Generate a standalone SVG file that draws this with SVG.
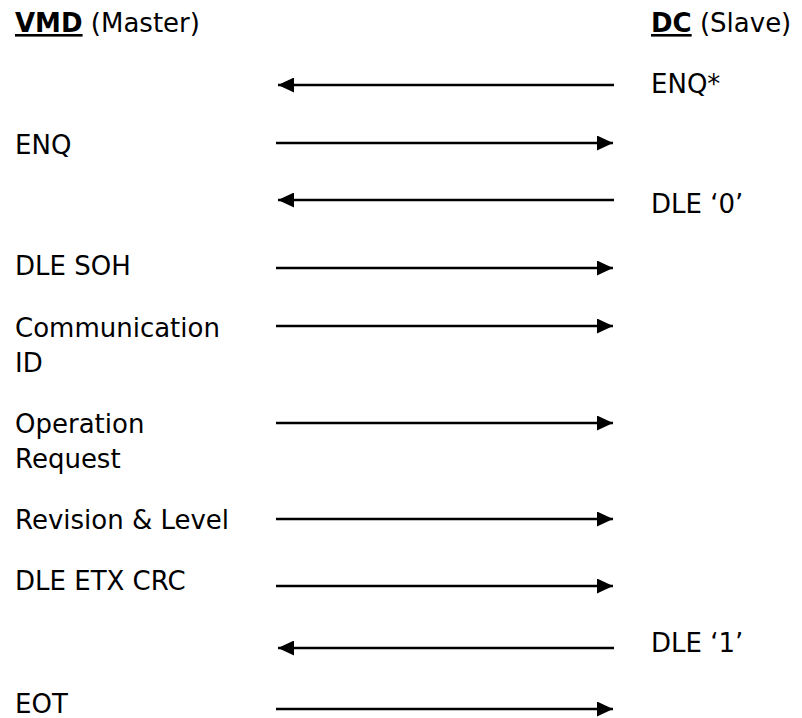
<svg xmlns="http://www.w3.org/2000/svg" width="802" height="718" viewBox="0 0 802 718">
<style>
text { font-family: "DejaVu Sans", Verdana, sans-serif; font-size: 26px; fill: #000; }
.b { font-weight: bold; text-decoration: underline; }
.c { stroke: #000; stroke-width: 2.5; fill: none; }
</style>
<defs>
<marker id="ah" markerUnits="userSpaceOnUse" markerWidth="16" markerHeight="15" refX="16" refY="7.5" orient="auto">
<path d="M0,0 L16,7.5 L0,15 z" fill="#000"/>
</marker>
</defs>
<rect width="802" height="718" fill="#fff"/>
<g id="master"><text x="15" y="32"><tspan class="b">VMD</tspan> (Master)</text></g>
<g id="slave"><text x="651" y="32"><tspan class="b">DC</tspan> (Slave)</text></g>
<g id="enq-star"><text x="651" y="93">ENQ*</text></g>
<g id="enq"><text x="15" y="154">ENQ</text></g>
<g id="dle0"><text x="651" y="213">DLE ‘0’</text></g>
<g id="dle-soh"><text x="15" y="275">DLE SOH</text></g>
<g id="comm-id"><text x="15" y="337">Communication</text><text x="15" y="372">ID</text></g>
<g id="op-req"><text x="15" y="433">Operation</text><text x="15" y="468">Request</text></g>
<g id="rev-level"><text x="15" y="529">Revision &amp; Level</text></g>
<g id="dle-etx"><text x="15" y="590">DLE ETX CRC</text></g>
<g id="dle1"><text x="651" y="652">DLE ‘1’</text></g>
<g id="eot"><text x="15" y="713">EOT</text></g>
<g id="connectors">
<line class="c" x1="614" y1="85" x2="278" y2="85" marker-end="url(#ah)"/>
<line class="c" x1="276" y1="143" x2="613" y2="143" marker-end="url(#ah)"/>
<line class="c" x1="614" y1="200" x2="278" y2="200" marker-end="url(#ah)"/>
<line class="c" x1="276" y1="268" x2="613" y2="268" marker-end="url(#ah)"/>
<line class="c" x1="276" y1="326" x2="613" y2="326" marker-end="url(#ah)"/>
<line class="c" x1="276" y1="423" x2="613" y2="423" marker-end="url(#ah)"/>
<line class="c" x1="276" y1="519" x2="613" y2="519" marker-end="url(#ah)"/>
<line class="c" x1="276" y1="586" x2="613" y2="586" marker-end="url(#ah)"/>
<line class="c" x1="614" y1="648" x2="278" y2="648" marker-end="url(#ah)"/>
<line class="c" x1="276" y1="709" x2="613" y2="709" marker-end="url(#ah)"/>
</g>
</svg>
